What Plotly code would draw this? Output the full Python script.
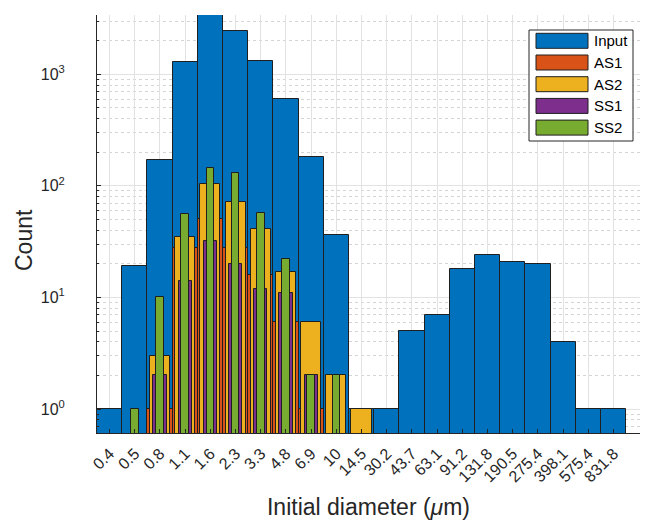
import plotly.graph_objects as go
import math

# Bin labels: initial diameter in micrometres
bin_labels = ["0.4", "0.5", "0.8", "1.1", "1.6", "2.3", "3.3", "4.8", "6.9", "10",
              "14.5", "30.2", "43.7", "63.1", "91.2", "131.8", "190.5", "275.4",
              "398.1", "575.4", "831.8"]

# Counts per bin for each sample set
input_counts = [1, 19, 171, 1300, 3400, 2450, 1310, 605, 182, 36,
                1, 1, 5, 7, 18, 24, 21, 20, 4, 1, 1]
as1_counts = [0, 0, 1, 28, 50, 28, 16, 6, 1, 0,
              0, 0, 0, 0, 0, 0, 0, 0, 0, 0, 0]
as2_counts = [0, 0, 3, 35, 105, 71, 41, 17, 6, 2,
              1, 0, 0, 0, 0, 0, 0, 0, 0, 0, 0]
ss1_counts = [0, 0, 2, 14, 32, 20, 12, 11, 2, 0,
              0, 0, 0, 0, 0, 0, 0, 0, 0, 0, 0]
ss2_counts = [0, 1, 10, 56, 146, 131, 57, 22, 2, 2,
              0, 0, 0, 0, 0, 0, 0, 0, 0, 0, 0]

series_names = ["Input", "AS1", "AS2", "SS1", "SS2"]
series_counts = [input_counts, as1_counts, as2_counts, ss1_counts, ss2_counts]
series_colors = ["#0072BD", "#D95319", "#EDB120", "#7E2F8E", "#77AC30"]
bar_widths = [1.0, 1.0, 0.8, 0.52, 0.3]

EDGE = "#1f1f1f"
TEXT = "#262626"
FONT = "Liberation Sans, Arial, sans-serif"

W, H = 649, 525
L, R, T, B = 97, 640, 15, 433  # plot area in pixels

x_pos = list(range(len(bin_labels)))

fig = go.Figure()
for name, counts, color, width in zip(series_names, series_counts, series_colors, bar_widths):
    fig.add_trace(go.Bar(
        x=x_pos,
        y=[c if c > 0 else None for c in counts],
        width=width,
        name=name,
        marker=dict(color=color, line=dict(color=EDGE, width=1)),
        showlegend=False,
    ))

decades = [1, 10, 100, 1000]
minor_vals = [v * m for m in [0.1, 1, 10, 100, 1000] for v in range(2, 10)]
minor_vals = [v for v in minor_vals if 0.6 <= v <= 3400 and v not in decades]

fig.update_layout(
    width=W, height=H,
    margin=dict(l=L, r=W - R, t=T, b=H - B),
    paper_bgcolor="white", plot_bgcolor="white",
    barmode="overlay",
    bargap=0,
    font=dict(family=FONT, color=TEXT, size=15),
    xaxis=dict(
        range=[-0.5, 21.05],
        tickmode="array", tickvals=x_pos, ticktext=bin_labels,
        tickangle=-45,
        tickfont=dict(size=16, color=TEXT),
        ticks="inside", ticklen=4, tickcolor=TEXT,
        ticklabelstandoff=4,
        showgrid=True, gridcolor="#e2e2e2", gridwidth=1,
        showline=True, linecolor=TEXT, linewidth=1,
        zeroline=False,
        title=dict(text="Initial diameter (<i>μ</i>m)", font=dict(size=23, color=TEXT), standoff=14),
    ),
    yaxis=dict(
        type="log",
        range=[math.log10(0.61), math.log10(3400)],
        tickmode="array", tickvals=decades,
        ticktext=["10<sup>0</sup>", "10<sup>1</sup>", "10<sup>2</sup>", "10<sup>3</sup>"],
        tickfont=dict(size=16, color=TEXT),
        ticks="inside", ticklen=4, tickcolor=TEXT,
        ticklabelstandoff=28,
        showgrid=True, gridcolor="#e2e2e2", gridwidth=1,
        minor=dict(tickmode="array", tickvals=minor_vals, ticks="inside", ticklen=2,
                   tickcolor=TEXT, showgrid=True, gridcolor="#d4d4d4", griddash="dot"),
        showline=True, linecolor=TEXT, linewidth=1,
        zeroline=False,
    ),
)


def px_x(px):
    return (px - L) / (R - L)


def px_y(py):
    return (B - py) / (B - T)


# Vertical axis label
fig.add_annotation(xref="paper", yref="paper", x=px_x(24), y=px_y(240),
                   text="Count", textangle=-90, showarrow=False,
                   xanchor="center", yanchor="middle",
                   font=dict(size=23, color=TEXT, family=FONT))

# Legend drawn as a boxed key in the upper right corner
box = dict(x0=529, x1=633, y0=30, y1=141)
fig.add_shape(type="rect", xref="paper", yref="paper",
              x0=px_x(box["x0"]), x1=px_x(box["x1"]),
              y0=px_y(box["y1"]), y1=px_y(box["y0"]),
              fillcolor="white", line=dict(color=TEXT, width=1), layer="above")
row0, step = 40.8, 21.7
for i, (name, color) in enumerate(zip(series_names, series_colors)):
    cy = row0 + i * step
    fig.add_shape(type="rect", xref="paper", yref="paper",
                  x0=px_x(536), x1=px_x(588),
                  y0=px_y(cy + 7.5), y1=px_y(cy - 7.5),
                  fillcolor=color, line=dict(color=EDGE, width=1), layer="above")
    fig.add_annotation(xref="paper", yref="paper", x=px_x(592), y=px_y(cy),
                       text=name, showarrow=False, xanchor="left", yanchor="middle",
                       font=dict(size=15, color="black", family=FONT))

fig.write_html("out.html")
